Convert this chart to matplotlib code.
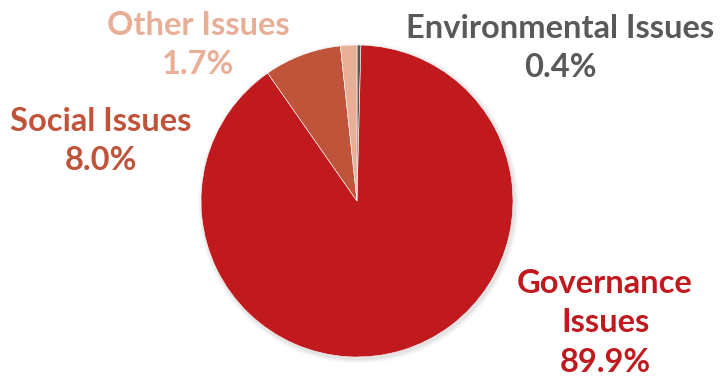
import matplotlib
matplotlib.use("Agg")
import matplotlib.pyplot as plt

categories = ["Environmental Issues", "Governance Issues", "Social Issues", "Other Issues"]
shares = [0.4, 89.9, 8.0, 1.7]
colors = ["#595959", "#C01A1F", "#C0543B", "#E9AE96"]

# label anchor (x, y) in canvas pixels from the top-left, and label layout
label_pos = {
    "Environmental Issues": (560, 48),
    "Governance Issues": (605, 323),
    "Social Issues": (101, 141),
    "Other Issues": (198, 45),
}
label_text = {
    "Environmental Issues": "Environmental Issues",
    "Governance Issues": "Governance\nIssues",
    "Social Issues": "Social Issues",
    "Other Issues": "Other Issues",
}

W, H = 720, 381
fig = plt.figure(figsize=(W / 100, H / 100), dpi=100)
ax = fig.add_axes([0, 0, 1, 1])

cx, cy, r = 357, H - 201, 156

# soft drop shadow behind the pie
for i, a in enumerate([0.035, 0.03, 0.025, 0.02]):
    ax.add_patch(plt.Circle((cx + 1.5, cy - 2), r + 1 + i * 1.2, color="black",
                            alpha=a, lw=0, zorder=0))

wedges, _ = ax.pie(shares, colors=colors, startangle=90, counterclock=False,
                   center=(cx, cy), radius=r, frame=True,
                   wedgeprops=dict(edgecolor="white", linewidth=0.4))
for w in wedges:
    w.set_zorder(2)

ax.set_xlim(0, W)
ax.set_ylim(0, H)
ax.set_aspect("equal")
ax.axis("off")

for cat, val, col in zip(categories, shares, colors):
    x, y = label_pos[cat]
    ax.text(x, H - y, f"{label_text[cat]}\n{val:.1f}%", ha="center", va="center",
            color=col, fontsize=23.5, fontweight="bold", family=["Lato", "DejaVu Sans"],
            linespacing=1.45, zorder=3)

fig.savefig("out.png", dpi=100)
